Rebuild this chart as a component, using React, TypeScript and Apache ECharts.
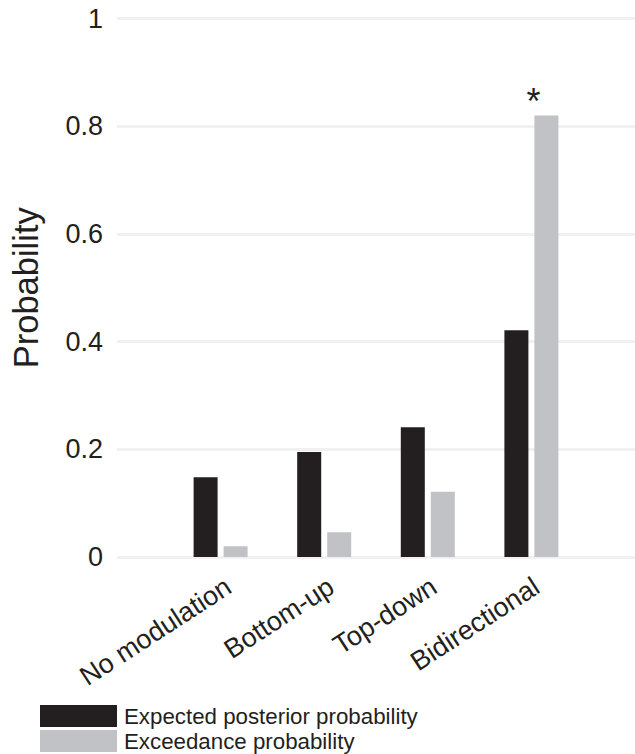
import React, { useEffect, useRef } from "react";
import * as echarts from "echarts";

const categories = ["No modulation", "Bottom-up", "Top-down", "Bidirectional"];
const expectedPosterior = [0.148, 0.195, 0.241, 0.421];
const exceedance = [0.02, 0.046, 0.121, 0.82];
const significant = [false, false, false, true];
const seriesNames = ["Expected posterior probability", "Exceedance probability"];

const DARK = "#231f20";
const GRAY = "#c1c2c5";
const FONT = "'Liberation Sans', Arial, Helvetica, sans-serif";

export default function App() {
  const ref = useRef<HTMLDivElement>(null);
  useEffect(() => {
    if (!ref.current) return;
    const chart = echarts.init(ref.current, null, { renderer: "svg" });
    const padded = ["_start", ...categories, "_end"];
    const pad = (arr: any[]) => [null, ...arr, null];
    const gridTop = 18.5;
    const gridHeight = 538.5;
    chart.setOption({
      animation: false,
      backgroundColor: "#ffffff",
      textStyle: { fontFamily: FONT, color: DARK },
      grid: [
        { left: 114, top: gridTop, width: 525, height: gridHeight },
        { left: 177.2, top: gridTop, width: 410.8, height: gridHeight },
      ],
      legend: {
        orient: "vertical",
        left: 40,
        top: 705,
        padding: 0,
        itemWidth: 77,
        itemHeight: 22,
        itemGap: 3,
        icon: "rect",
        data: seriesNames,
        textStyle: {
          fontSize: 22.3,
          color: DARK,
          fontFamily: FONT,
          padding: [0, 0, 0, 2],
        },
      },
      xAxis: [
        {
          gridIndex: 0,
          type: "category",
          data: padded,
          boundaryGap: false,
          axisLine: { show: false },
          axisTick: { show: false },
          axisLabel: { show: false },
          splitLine: { show: false },
        },
        {
          gridIndex: 1,
          type: "category",
          data: categories,
          boundaryGap: true,
          axisLine: { show: false },
          axisTick: { show: false },
          splitLine: { show: false },
          axisLabel: {
            show: true,
            interval: 0,
            rotate: 33,
            margin: 27,
            fontSize: 27,
            color: DARK,
            fontFamily: FONT,
          },
        },
      ],
      yAxis: [
        {
          gridIndex: 0,
          type: "value",
          min: 0,
          max: 1,
          interval: 0.2,
          axisLine: { show: false },
          axisTick: { show: false },
          axisLabel: { fontSize: 27, color: DARK, margin: 14, fontFamily: FONT },
          splitLine: { show: true, lineStyle: { color: "#f1f1f1", width: 3 } },
          name: "Probability",
          nameLocation: "middle",
          nameGap: 74,
          nameTextStyle: { fontSize: 34.5, color: DARK, fontFamily: FONT },
        },
        {
          gridIndex: 1,
          type: "value",
          min: 0,
          max: 1,
          show: false,
        },
      ],
      series: [
        {
          name: seriesNames[0],
          type: "bar",
          xAxisIndex: 0,
          yAxisIndex: 0,
          barWidth: 24,
          barGap: "25%",
          itemStyle: { color: DARK },
          data: pad(expectedPosterior),
        },
        {
          name: seriesNames[1],
          type: "bar",
          xAxisIndex: 0,
          yAxisIndex: 0,
          barWidth: 24,
          barGap: "25%",
          itemStyle: { color: GRAY },
          data: pad(
            exceedance.map((v, i) =>
              significant[i]
                ? {
                    value: v,
                    label: {
                      show: true,
                      position: "top",
                      formatter: "*",
                      fontSize: 36,
                      color: DARK,
                      offset: [-13, 9],
                      fontFamily: FONT,
                    },
                  }
                : v
            )
          ),
        },
      ],
    });
    return () => chart.dispose();
  }, []);
  return (
    <div
      ref={ref}
      style={{ position: "fixed", left: 0, top: 0, width: 635, height: 754 }}
    />
  );
}
